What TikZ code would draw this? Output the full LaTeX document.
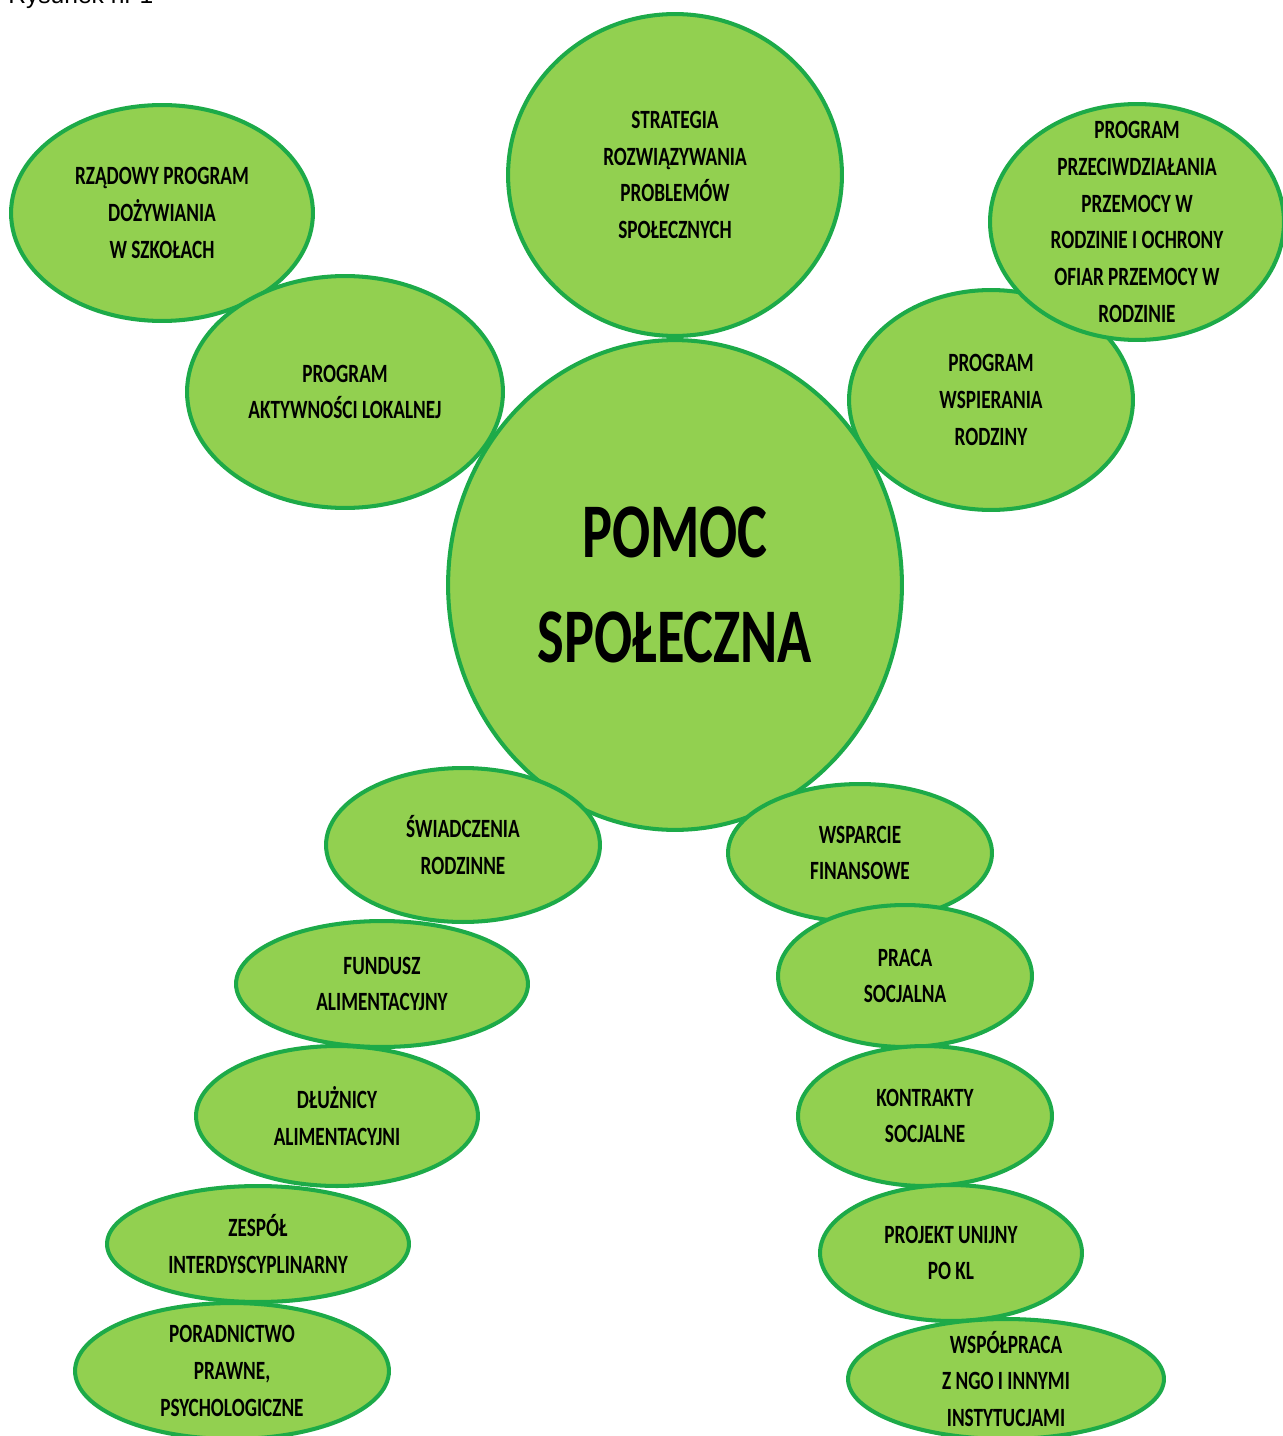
\documentclass[tikz,border=0pt]{standalone}
\usepackage{fontspec}
\setmainfont{Carlito}[FakeStretch=0.73]
\newfontfamily\captionfont{Liberation Sans}
\usetikzlibrary{shapes.geometric}
\definecolor{leafgreen}{HTML}{92D050}
\definecolor{rimgreen}{HTML}{1DAA48}

\begin{document}
\begin{tikzpicture}[x=0.02cm, y=-0.02cm,
    bubble/.style={ellipse, draw=rimgreen, fill=leafgreen, line width=2.3pt, inner sep=0pt},
    radii/.style 2 args={minimum width=#1*0.04cm, minimum height=#2*0.04cm},
    tag/.style={align=center, inner sep=0pt, text=black, font=\fontsize{15}{20.9}\selectfont\bfseries},
    bigtag/.style={align=center, inner sep=0pt, text=black, font=\fontsize{44}{60}\selectfont\bfseries}]
    \useasboundingbox (0,0) rectangle (1282,1436);

    % Caption (cut by the page edge)
    \node[anchor=base west, inner sep=0pt, font=\captionfont\fontsize{14}{16}\selectfont] (caption) at (8,4) {Rysunek nr 1};

    % Upper bubbles
    \node[bubble, radii={151}{108}, label={[tag]center:{RZĄDOWY PROGRAM\\DOŻYWIANIA\\W SZKOŁACH}}] (dozywianie) at (162,213) {};
    \node[bubble, radii={167}{161}, label={[tag]center:{STRATEGIA\\ROZWIĄZYWANIA\\PROBLEMÓW\\SPOŁECZNYCH}}] (strategia) at (675,175) {};
    \node[bubble, radii={158}{116}, label={[tag]center:{PROGRAM\\AKTYWNOŚCI LOKALNEJ}}] (aktywnosc) at (345,392) {};
    \node[bubble, radii={142}{110}, label={[tag]center:{PROGRAM\\WSPIERANIA\\RODZINY}}] (wspieranie) at (991,400) {};
    \node[bubble, radii={147}{118}, label={[tag]center:{PROGRAM\\PRZECIWDZIAŁANIA\\PRZEMOCY W\\RODZINIE I OCHRONY\\OFIAR PRZEMOCY W\\RODZINIE}}] (przemoc) at (1137,222) {};

    % Centre
    \node[bubble, radii={227}{245}, label={[bigtag]center:{POMOC\\SPOŁECZNA}}] (pomoc) at (675,585) {};

    % Left leg
    \node[bubble, radii={137}{77}, label={[tag]center:{ŚWIADCZENIA\\RODZINNE}}] (swiadczenia) at (463,845) {};
    \node[bubble, radii={146}{63}, label={[tag]center:{FUNDUSZ\\ALIMENTACYJNY}}] (fundusz) at (382,984) {};
    \node[bubble, radii={141}{70}, label={[tag]center:{DŁUŻNICY\\ALIMENTACYJNI}}] (dluznicy) at (337,1116) {};
    \node[bubble, radii={151}{58}, label={[tag]center:{ZESPÓŁ\\INTERDYSCYPLINARNY}}] (zespol) at (258,1244) {};
    \node[bubble, radii={157}{68}, label={[tag]center:{PORADNICTWO\\PRAWNE,\\PSYCHOLOGICZNE}}] (poradnictwo) at (232,1371) {};

    % Right leg
    \node[bubble, radii={132}{69}, label={[tag]center:{WSPARCIE\\FINANSOWE}}] (wsparcie) at (860,853) {};
    \node[bubble, radii={127}{71}, label={[tag]center:{PRACA\\SOCJALNA}}] (praca) at (905,976) {};
    \node[bubble, radii={127}{70}, label={[tag]center:{KONTRAKTY\\SOCJALNE}}] (kontrakty) at (925,1116) {};
    \node[bubble, radii={131}{68}, label={[tag]center:{PROJEKT UNIJNY\\PO KL}}] (projekt) at (951,1253) {};
    \node[bubble, radii={158}{60}, label={[tag]center:{WSPÓŁPRACA\\Z NGO I INNYMI\\INSTYTUCJAMI}}] (wspolpraca) at (1006,1379) {};
\end{tikzpicture}
\end{document}
